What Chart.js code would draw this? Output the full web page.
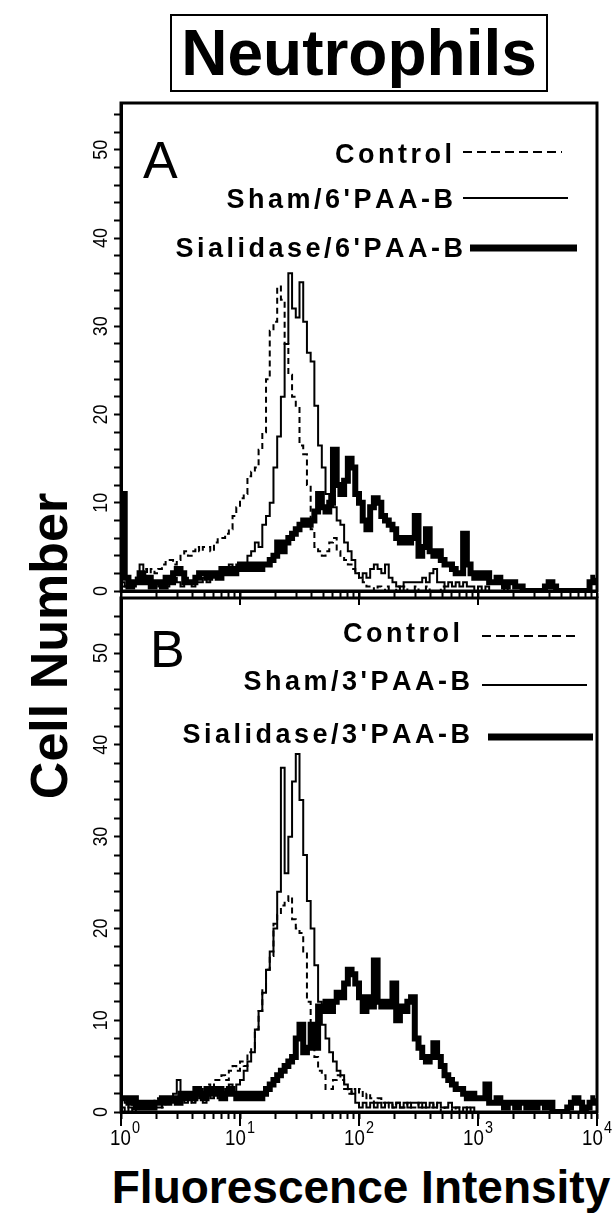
<!DOCTYPE html>
<html>
<head>
<meta charset="utf-8">
<script src="https://cdn.jsdelivr.net/npm/chart.js@4.4.1/dist/chart.umd.min.js"></script>
<style>
  html, body { margin: 0; padding: 0; background: #fff; }
  #wrap { position: relative; width: 616px; height: 1221px; overflow: hidden; }
  #wrap canvas { position: absolute; left: 0; top: 0; }
  #title {
    position: absolute; left: 170px; top: 14px; width: 374px; height: 74px;
    border: 2px solid #000; text-align: center; line-height: 76px;
    font: bold 64px "Liberation Sans", Arial, sans-serif; color: #000;
  }
  .axtitle {
    position: absolute; white-space: nowrap; line-height: 1; color: #000;
    font-family: "Liberation Sans", Arial, sans-serif; font-weight: bold;
  }
  #ylab { left: 49px; top: 646px; font-size: 52px; transform: translate(-50%, -50%) rotate(-90deg); }
  #xlab { left: 361px; top: 1187px; font-size: 46px; transform: translate(-50%, -50%); }
</style>
</head>
<body>
<div id="wrap">
  <div id="title">Neutrophils</div>
  <div id="ylab" class="axtitle">Cell Number</div>
  <div id="xlab" class="axtitle">Fluorescence Intensity</div>
  <canvas id="panelA" width="616" height="1221"></canvas>
  <canvas id="panelB" width="616" height="1221"></canvas>
</div>
<script>
// 4 decades of log fluorescence, 32 channels per decade (values = cell counts per channel)
const CHANNELS_PER_DECADE = 32;

const yTickLabels = [0, 10, 20, 30, 40, 50];
const xTickLabels = [0, 1, 2, 3, 4]; // exponents of 10

const legendA = ["Control", "Sham/6'PAA-B", "Sialidase/6'PAA-B"];
const legendB = ["Control", "Sham/3'PAA-B", "Sialidase/3'PAA-B"];

// ---- panel A ----
const controlA = [
  0.5,0.5,1,1,1.5,2,2.5,2,2.5,2,2.5,3,3.5,3.5,3,3.5,4,4.5,4,4.5,5,4.5,5,5,4.5,5.5,6,6,6.5,7,8.5,9.5,
  10.5,11,13,13.5,14,16,18,24,29.5,30.5,34.5,33,28,24.5,22,21,16.5,15.5,12,7,5,4.5,4,4.5,5.5,6,4.5,4,3.5,3,2.5,2,
  1.5,1,0.5,0.5,0,0.5,0,0.5,0,0,0.5,0,0.5,0,0,0.5,0,0,0.5,0,0,0,0.5,0,0,0,0,0,0,0,0,0,
  0,0,0,0,0,0,0,0,0,0,0,0,0,0,0,0,0,0,0,0,0,0,0,0,0,0,0,0,0,0,0,0
];
const shamA = [
  1,0.5,1,0.5,1.5,3,1.5,1,0.5,1,0.5,1,0.5,1,1.5,1,0.5,1.5,1,0.5,1,1,1.5,1,1.5,2,1.5,2,2.5,3,2.5,3,
  2.5,3,4,4.5,5.5,5,7.5,8.5,10,14,17.5,22,28,36,32,31,35,30.5,27,26,21,16.5,14,11,10,9.5,8,7.5,5.5,4.5,3.5,2,
  1.5,2,1.5,2.5,3,2.5,2,3,1.5,1,0.5,0.5,1,1,1,1,1,1.5,1,2,2.5,1,1,0.5,1,0.5,1,0.5,1,0.5,0.5,0,
  0.5,0,0.5,0,0,0,0,1,0,0,0,0,0,0,0,0,0,0,0,0,0,0,0,0,0,0,0,0,0,0,0,0
];
const sialidaseA = [
  11,1.5,0.5,1,1,2,1,1.5,0.5,1,1,0.5,1.5,1,2,2.5,2,1,1,1,1.5,2,2,1.5,2,2,1.5,2.5,2,2.5,2,2.5,
  3,2.5,3,2.5,3,2.5,3,3,3.5,4,5.5,4.5,5.5,6,6.5,7,7.5,8,7.5,8,9,11,9.5,9,10,16,12,11,12.5,15,14,11,
  10,8,7,9.5,10.5,10,8.5,8,7.5,7,6,5.5,6,5.5,6,8.5,4,5,7,4.5,4,4.5,3.5,3,3,2.5,2,2,6.5,3,2,1.5,
  2,1.5,2,1,1,1.5,1,0.5,1,1,0.5,0.5,0,0,0,0,0,0,0.5,1,0.5,0,0,0,0,0,0,0,0,0,1,1.5
];

// ---- panel B ----
const controlB = [
  0.5,0,1,0.5,1,0.5,0.5,1,0.5,1.5,1,0.5,1,1.5,1,1,1.5,2,1.5,1,2,2.5,2,3,2.5,3.5,3.5,4,3.5,4.5,5,4.5,
  5.5,5,6.5,7,9,11,13.5,15.5,17,20.5,21.5,22.5,23,23.5,21,20,19.5,17.5,12,8,6,4.5,4,2.5,2.5,3.5,4,3.5,2.5,2,2.5,2,
  2.5,1.5,2,1.5,1,1.5,1,0.5,1,0.5,1,0.5,0.5,1,0.5,0.5,1,0.5,0.5,0.5,1,0.5,0,0.5,0.5,0,0.5,0,0,0.5,0,0,
  0,0,0,0,0,0,0,0,0,0,0,0,0,0,0,0,0,0,0,0,0,0,0,0,0,0,0,0,0,0,0,0
];
const shamB = [
  1.5,1,0.5,0,0.5,0.5,1,0.5,1,0.5,0.5,1,1.5,1,2,3.5,1.5,1,1.5,1,2,1.5,1,2,1.5,2.5,1.5,2,2.5,3,2,3,
  3.5,4.5,5.5,6.5,9,11,13,15.5,17.5,20,24,37.5,26,30,36,39,34,28,23,20,16,12,9.5,8,6.5,5.5,4.5,4,3,2.5,2,1,
  0.5,1,0.5,1,0.5,1,0.5,1,1,0.5,1,0.5,1,0.5,1,1,0.5,1,0.5,1,0.5,1,0.5,0.5,1,0.5,0.5,0,0.5,0,0.5,0,
  0,0,0,0,0,0,0,0,0,0,0,0,0,0,0,0,0,0,0,0,0,0,0,0,0,0,0,0,0,0,0,0
];
const sialidaseB = [
  1.5,1.5,1,1.5,0.5,1,0.5,1,0.5,1,1,1.5,1,1.5,1.5,1,2,1.5,2,1.5,2.5,2,1.5,2.5,2,2,2.5,1.5,2,2.5,2,1.5,
  2,1.5,2,1.5,2,1.5,2,2.5,3,3.5,4,4.5,5,5.5,6,8,9.5,6.5,7,9.5,7,11.5,11,12,11,12,13,12.5,14,15.5,15,14,
  12.5,11,12.5,11.5,16.5,12,11.5,12,11.5,14,10,11.5,11,12,12.5,8,7,6,5.5,6,7.5,6,5,4,3.5,3,2.5,2.5,2,1.5,2,1.5,
  1.5,1.5,3,1,1,1.5,1,0.5,1,1,0.5,1,1,0.5,1,0.5,1,1,0.5,1,0,0,0,0,0.5,1,1.5,1,0,0.5,1,1.5
];

const channels = controlA.map((_, k) => Math.pow(10, (k + 0.5) / CHANNELS_PER_DECADE));
function toPoints(values) {
  return values.map((v, k) => ({ x: channels[k], y: v }));
}

const FONT = '"Liberation Sans", Arial, sans-serif';

function spacedText(ctx, text, xRight, y, spacing) {
  let total = 0;
  for (const ch of text) total += ctx.measureText(ch).width;
  total += spacing * (text.length - 1);
  let x = xRight - total;
  ctx.textAlign = 'left';
  for (const ch of text) {
    ctx.fillText(ch, x, y);
    x += ctx.measureText(ch).width + spacing;
  }
}

const panelDecor = {
  id: 'panelDecor',
  afterDraw(chart, args, o) {
    const ctx = chart.ctx;
    const area = chart.chartArea;
    const xs = chart.scales.x, ys = chart.scales.y;
    ctx.save();
    ctx.strokeStyle = '#000';
    ctx.fillStyle = '#000';

    // frame
    ctx.lineWidth = 3;
    ctx.strokeRect(area.left, area.top, area.right - area.left, area.bottom - area.top);

    // longer ticks at decades
    ctx.lineWidth = 2;
    xTickLabels.forEach(e => {
      const x = xs.getPixelForValue(Math.pow(10, e));
      ctx.beginPath();
      ctx.moveTo(x, area.bottom);
      ctx.lineTo(x, area.bottom + 14);
      ctx.stroke();
    });

    // rotated y labels (tall, narrow digits)
    ctx.font = '21px ' + FONT;
    ctx.textAlign = 'center';
    ctx.textBaseline = 'middle';
    yTickLabels.forEach(v => {
      const y = ys.getPixelForValue(v);
      ctx.save();
      ctx.translate(area.left - 20, y);
      ctx.rotate(-Math.PI / 2);
      ctx.scale(0.85, 1);
      ctx.fillText(String(v), 0, 0);
      ctx.restore();
    });

    // x labels 10^n
    if (o.xLabels) {
      ctx.textBaseline = 'alphabetic';
      xTickLabels.forEach(e => {
        const x = xs.getPixelForValue(Math.pow(10, e));
        ctx.font = '22px ' + FONT;
        const w1 = ctx.measureText('10').width * 0.85;
        ctx.font = '17px ' + FONT;
        const w2 = ctx.measureText(String(e)).width * 0.85;
        const x0 = x - (w1 + w2 + 1) / 2 + (e === 0 ? 4 : 0);
        ctx.textAlign = 'left';
        ctx.save();
        ctx.translate(x0, area.bottom + 33);
        ctx.scale(0.85, 1);
        ctx.font = '22px ' + FONT;
        ctx.fillText('10', 0, 0);
        ctx.font = '17px ' + FONT;
        ctx.fillText(String(e), (w1 + 1) / 0.85, -12);
        ctx.restore();
      });
    }

    // panel letter
    ctx.textBaseline = 'alphabetic';
    ctx.textAlign = 'left';
    ctx.font = '52px ' + FONT;
    ctx.fillText(o.letter, o.letterX, o.letterY);

    // legend
    ctx.font = 'bold 27px ' + FONT;
    o.legend.forEach(item => {
      spacedText(ctx, item.text, item.textRight, item.baseline, 3.5);
      ctx.lineWidth = item.width;
      ctx.setLineDash(item.dash || []);
      ctx.beginPath();
      ctx.moveTo(item.x0, item.y);
      ctx.lineTo(item.x1, item.y);
      ctx.stroke();
      ctx.setLineDash([]);
    });
    ctx.restore();
  }
};

const SERIES_STYLE = [
  { borderWidth: 2, borderDash: [6, 4] },
  { borderWidth: 2, borderDash: [] },
  { borderWidth: 6, borderDash: [] }
];

function makePanel(id, names, series, box, decor) {
  const datasets = series.map((vals, i) => ({
    label: names[i],
    data: toPoints(vals),
    borderColor: '#000',
    borderWidth: SERIES_STYLE[i].borderWidth,
    borderDash: SERIES_STYLE[i].borderDash,
    stepped: 'middle',
    pointRadius: 0,
    fill: false
  }));
  return new Chart(document.getElementById(id), {
    type: 'line',
    data: { datasets },
    options: {
      responsive: false,
      animation: false,
      events: [],
      layout: { padding: { left: box.left - 7, right: 616 - box.right, top: box.top, bottom: 1221 - box.bottom - 7 } },
      plugins: { legend: { display: false }, tooltip: { enabled: false }, panelDecor: decor },
      scales: {
        x: {
          type: 'logarithmic', min: 1, max: 10000,
          afterBuildTicks(axis) {
            const t = [];
            for (let d = 0; d < 4; d++) for (let m = 1; m < 10; m++) t.push({ value: m * Math.pow(10, d) });
            t.push({ value: 10000 });
            axis.ticks = t;
          },
          ticks: { display: false },
          grid: { drawOnChartArea: false, drawTicks: true, tickLength: 7, tickWidth: 2, tickColor: '#000' },
          border: { display: true, color: '#000', width: 3 }
        },
        y: {
          min: 0, max: box.ymax,
          afterBuildTicks(axis) {
            const t = [];
            for (let v = 0; v < box.ymax; v += 2) t.push({ value: v });
            axis.ticks = t;
          },
          ticks: { display: false },
          grid: { drawOnChartArea: false, drawTicks: true, tickLength: 7, tickWidth: 2, tickColor: '#000' },
          border: { display: true, color: '#000', width: 3 }
        }
      }
    },
    plugins: [panelDecor]
  });
}

makePanel('panelA', legendA, [controlA, shamA, sialidaseA],
  { left: 121, right: 597, top: 103, bottom: 591, ymax: 55.3 },
  {
    xLabels: false, letter: 'A', letterX: 143, letterY: 178,
    legend: [
      { text: legendA[0], textRight: 452, baseline: 163, x0: 463, x1: 562, y: 152, width: 2, dash: [9, 5] },
      { text: legendA[1], textRight: 453, baseline: 208, x0: 463, x1: 568, y: 198, width: 2 },
      { text: legendA[2], textRight: 463, baseline: 257, x0: 470, x1: 577, y: 248, width: 7 }
    ]
  });

makePanel('panelB', legendB, [controlB, shamB, sialidaseB],
  { left: 121, right: 597, top: 598, bottom: 1112, ymax: 56 },
  {
    xLabels: true, letter: 'B', letterX: 150, letterY: 667,
    legend: [
      { text: legendB[0], textRight: 460, baseline: 642, x0: 482, x1: 578, y: 636, width: 2, dash: [9, 5] },
      { text: legendB[1], textRight: 470, baseline: 690, x0: 482, x1: 587, y: 685, width: 2 },
      { text: legendB[2], textRight: 470, baseline: 743, x0: 488, x1: 593, y: 737, width: 7 }
    ]
  });
</script>
</body>
</html>
